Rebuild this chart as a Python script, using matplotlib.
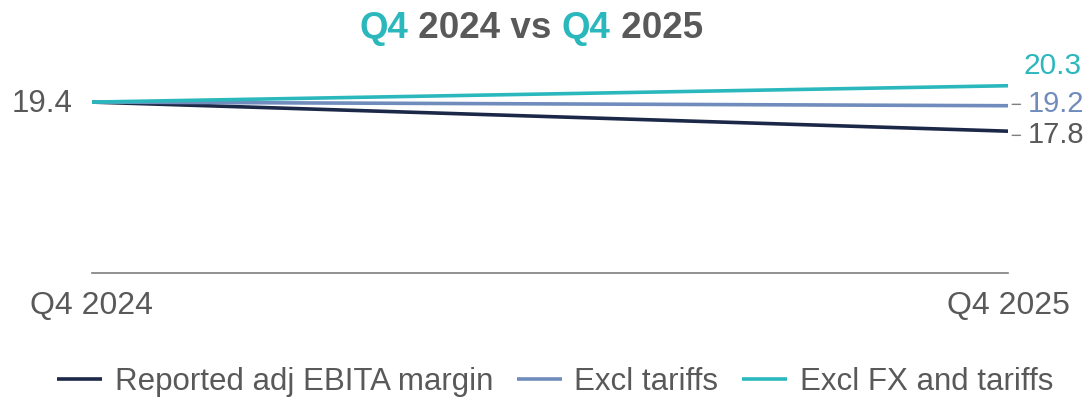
import matplotlib
matplotlib.use("Agg")
import matplotlib.pyplot as plt
from matplotlib import font_manager as fm
from matplotlib.transforms import offset_copy

periods = ["Q4 2024", "Q4 2025"]
series_names = ["Reported adj EBITA margin", "Excl tariffs", "Excl FX and tariffs"]
reported = [19.4, 17.8]
excl_tariffs = [19.4, 19.2]
excl_fx_tariffs = [19.4, 20.3]
colors = ["#1b2847", "#6f8cbc", "#2bb8bd"]
gray = "#595959"

names = {f.name for f in fm.fontManager.ttflist}
base_font = "Liberation Sans" if "Liberation Sans" in names else "DejaVu Sans"
plt.rcParams["font.family"] = [base_font, "DejaVu Sans"]

fig = plt.figure(figsize=(10.91, 3.97), dpi=100)
ax = fig.add_axes([92/1091, (397-273)/397, (1008-92)/1091, 200/397])

x = [0, 1]
lines = []
for vals, c, n in zip([reported, excl_tariffs, excl_fx_tariffs], colors, series_names):
    ln, = ax.plot(x, vals, color=c, lw=2.6, label=n, solid_capstyle="butt")
    lines.append(ln)

ax.set_xlim(0, 1)
ax.set_ylim(10, 21)
for s in ["top", "right", "left"]:
    ax.spines[s].set_visible(False)
ax.spines["bottom"].set_color("#7f7f7f")
ax.spines["bottom"].set_linewidth(1.2)
ax.set_yticks([])
ax.set_xticks(x)
ax.set_xticklabels(periods, fontsize=23, color=gray)
ax.tick_params(axis="x", length=0, pad=13)

# left value label
ax.annotate(f"{reported[0]:.1f}", xy=(0, reported[0]), xytext=(-14, -1.5), textcoords="offset points",
            ha="right", va="center", fontsize=22.5, color=gray, annotation_clip=False)
# right labels
fs_val = 21
ax.annotate(f"{excl_fx_tariffs[1]:.1f}", xy=(1, excl_fx_tariffs[1]), xytext=(11, 14), textcoords="offset points",
            ha="left", va="center", fontsize=fs_val + 0.5, color=colors[2], annotation_clip=False)
for vals, c, dy in [(excl_tariffs, colors[1], 1.0), (reported, gray, -3.0)]:
    tr = offset_copy(ax.transData, fig=fig, x=0, y=dy, units="points")
    ax.annotate(f"{vals[1]:.1f}", xy=(1, vals[1]), xycoords=tr, xytext=(14, 0), textcoords="offset points",
                ha="left", va="center", fontsize=fs_val, color=c, annotation_clip=False,
                arrowprops=dict(arrowstyle="-", color="#7f7f7f", lw=1, shrinkA=3, shrinkB=3))

# title with colored pieces
fig.canvas.draw()
renderer = fig.canvas.get_renderer()
pieces = [("Q4", colors[2]), (" 2024 vs ", gray), ("Q4", colors[2]), (" 2025", gray)]
texts = []
for s, c in pieces:
    t = fig.text(0, 0, s, fontsize=26.5, fontweight="bold", color=c, ha="left", va="center")
    texts.append(t)
widths = [t.get_window_extent(renderer).width for t in texts]
total = sum(widths)
cur = 531 - total / 2
for t, w in zip(texts, widths):
    t.set_position((cur / 1091, 1 - 29 / 397))
    cur += w

fig.legend(handles=lines, labels=series_names, loc="center", bbox_to_anchor=(555/1091, 1 - 382/397),
           ncol=3, frameon=False, handlelength=1.45, handletextpad=0.4, columnspacing=0.75,
           prop={"size": 22.5}, labelcolor=gray)

fig.savefig("out.png", dpi=100)
